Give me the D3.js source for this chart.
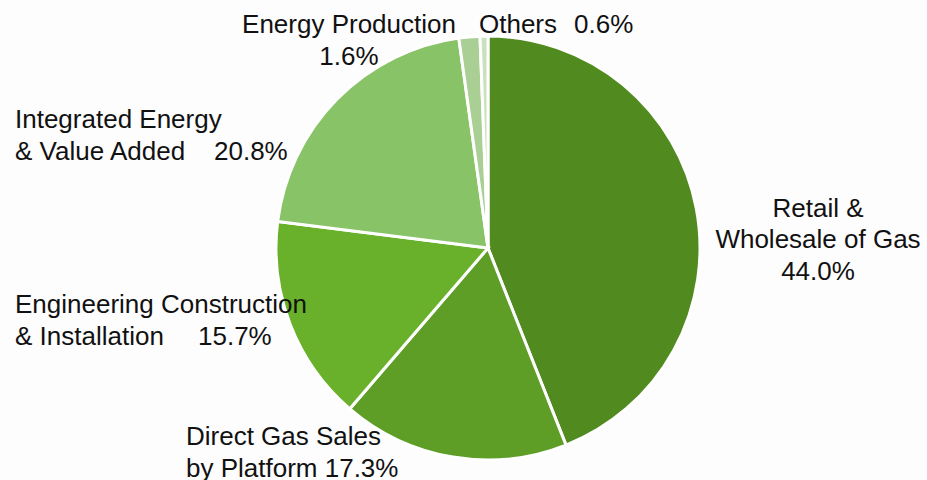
<!DOCTYPE html>
<meta charset="utf-8">
<style>
    body { margin: 0; background: #fdfdfe; }
    svg { display: block; }
    .labels text {
        font-family: "Liberation Sans", Arial, sans-serif;
        font-size: 26px;
        fill: #111;
    }
    .slices path {
        stroke: #fff;
        stroke-width: 3px;
    }
</style>
<svg width="927" height="480"></svg>
<script src="https://d3js.org/d3.v7.min.js"></script>
<script>

    // segments, clockwise from 12 o'clock
    var segments = ["Retail & Wholesale of Gas", "Direct Gas Sales by Platform",
        "Engineering Construction & Installation", "Integrated Energy & Value Added",
        "Energy Production", "Others"];
    var shares = [44.0, 17.3, 15.7, 20.8, 1.6, 0.6];
    var colors = ["#518a1f", "#5e9e26", "#69b12b", "#89c367", "#aacf95", "#c9e1bc"];

    // label lines per segment (text, x, baseline y, anchor)
    var labelLines = [
        [["Retail &", 818, 217, "middle"], ["Wholesale of Gas", 818, 248, "middle"], ["44.0%", 818, 280, "middle"]],
        [["Direct Gas Sales", 186, 445, "start"], ["by Platform 17.3%", 186, 477, "start"]],
        [["Engineering Construction", 15, 313, "start"], ["& Installation", 15, 345, "start"], ["15.7%", 198, 345, "start"]],
        [["Integrated Energy", 15, 128, "start"], ["& Value Added", 15, 160, "start"], ["20.8%", 214, 160, "start"]],
        [["Energy Production", 349, 33, "middle"], ["1.6%", 349, 65, "middle"]],
        [["Others", 479, 33, "start"], ["0.6%", 574, 33, "start"]]
    ];

    var svg = d3.select("svg"),
        cx = 488,
        cy = 248,
        radius = 212;

    var pie = d3.pie().sort(null).value(function(d) { return d; });
    var arc = d3.arc().innerRadius(0).outerRadius(radius);

    svg.append("g")
        .attr("class", "slices")
        .attr("transform", "translate(" + cx + "," + cy + ")")
        .selectAll("path")
        .data(pie(shares))
        .enter().append("path")
        .attr("d", arc)
        .attr("fill", function(d, i) { return colors[i]; })
        .append("title")
        .text(function(d, i) { return segments[i]; });

    var lines = [];
    labelLines.forEach(function(group) { group.forEach(function(l) { lines.push(l); }); });

    svg.append("g")
        .attr("class", "labels")
        .selectAll("text")
        .data(lines)
        .enter().append("text")
        .attr("x", function(d) { return d[1]; })
        .attr("y", function(d) { return d[2]; })
        .attr("text-anchor", function(d) { return d[3]; })
        .text(function(d) { return d[0]; });

</script>
